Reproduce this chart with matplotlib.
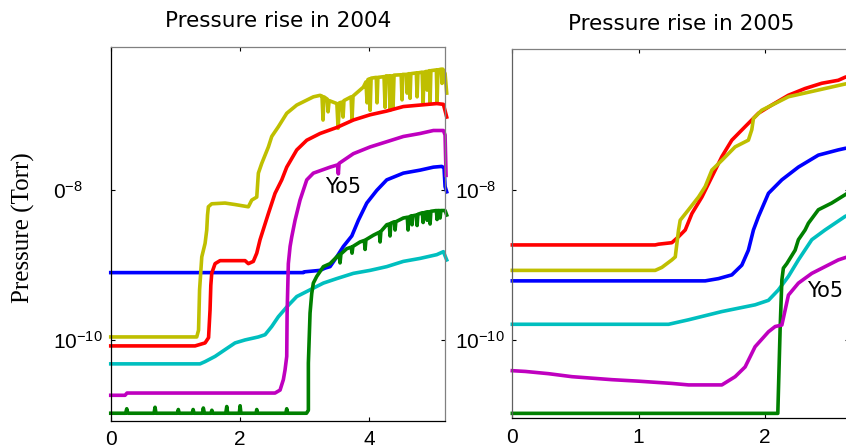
import numpy as np
import matplotlib.pyplot as plt

# (time, log10 of pressure in Torr) for each gauge trace, 2004 run
yellow_04 = [
    (0.000, -9.96), (1.331, -9.96), (1.359, -9.87), (1.375, -9.33), (1.409, -8.89),
    (1.460, -8.71), (1.486, -8.53), (1.498, -8.33), (1.511, -8.22), (1.563, -8.18),
    (1.769, -8.17), (1.924, -8.19), (2.130, -8.22), (2.183, -8.13), (2.260, -8.09),
    (2.285, -7.77), (2.337, -7.64), (2.440, -7.42), (2.492, -7.28), (2.594, -7.15),
    (2.724, -6.97), (2.879, -6.86), (3.136, -6.75), (3.240, -6.73), (3.270, -6.74),
    (3.286, -7.06), (3.300, -6.75), (3.350, -6.78), (3.364, -6.95), (3.380, -6.80),
    (3.500, -6.84), (3.519, -7.17), (3.540, -6.83), (3.580, -6.82), (3.596, -7.02),
    (3.610, -6.80), (3.720, -6.75), (3.735, -7.06), (3.750, -6.74), (3.910, -6.62),
    (3.950, -6.55), (3.968, -6.83), (3.980, -6.52), (4.000, -6.51), (4.015, -6.93),
    (4.030, -6.50), (4.110, -6.49), (4.122, -6.83), (4.135, -6.49), (4.230, -6.48),
    (4.246, -6.89), (4.260, -6.47), (4.310, -6.47), (4.323, -6.93), (4.335, -6.47),
    (4.355, -6.47), (4.370, -6.89), (4.385, -6.46), (4.495, -6.455), (4.509, -6.79),
    (4.520, -6.45), (4.575, -6.45), (4.587, -6.70), (4.600, -6.445), (4.620, -6.44),
    (4.633, -6.77), (4.645, -6.44), (4.730, -6.43), (4.742, -6.75), (4.755, -6.43),
    (4.820, -6.42), (4.835, -6.83), (4.850, -6.42), (4.885, -6.41), (4.897, -6.66),
    (4.910, -6.41), (4.930, -6.40), (4.943, -6.83), (4.955, -6.40), (5.040, -6.39),
    (5.051, -6.82), (5.065, -6.39), (5.115, -6.38), (5.128, -6.57), (5.140, -6.38),
    (5.175, -6.44), (5.200, -6.70),
]
red_04 = [
    (0.000, -10.08), (1.305, -10.08), (1.460, -10.04), (1.514, -9.97), (1.537, -9.60),
    (1.549, -9.27), (1.563, -9.11), (1.615, -8.98), (1.692, -8.94), (2.079, -8.94),
    (2.130, -8.98), (2.207, -8.95), (2.260, -8.84), (2.311, -8.66), (2.440, -8.31),
    (2.543, -8.04), (2.647, -7.86), (2.724, -7.69), (2.879, -7.46), (3.034, -7.33),
    (3.240, -7.24), (3.498, -7.16), (3.755, -7.06), (4.014, -6.99), (4.272, -6.94),
    (4.529, -6.88), (4.788, -6.86), (5.046, -6.84), (5.149, -6.85), (5.200, -7.02),
]
magenta_04 = [
    (0.000, -10.74), (0.221, -10.74), (0.252, -10.71), (2.543, -10.71), (2.621, -10.67),
    (2.672, -10.53), (2.698, -10.40), (2.724, -10.22), (2.730, -9.64), (2.749, -8.98),
    (2.776, -8.75), (2.802, -8.62), (2.853, -8.40), (2.930, -8.13), (3.034, -7.86),
    (3.136, -7.77), (3.395, -7.69), (3.510, -7.66), (3.523, -7.78), (3.534, -7.64),
    (3.755, -7.51), (4.014, -7.42), (4.272, -7.35), (4.529, -7.28), (4.788, -7.24),
    (4.994, -7.20), (5.149, -7.20), (5.175, -7.26), (5.190, -7.80),
]
blue_04 = [
    (0.000, -9.10), (2.981, -9.10), (2.992, -9.09), (3.240, -9.07), (3.317, -9.04),
    (3.395, -9.02), (3.498, -8.89), (3.601, -8.75), (3.731, -8.61), (3.833, -8.40),
    (3.963, -8.17), (4.118, -8.00), (4.272, -7.86), (4.529, -7.77), (4.788, -7.73),
    (4.994, -7.69), (5.124, -7.68), (5.159, -7.70), (5.175, -7.95), (5.200, -8.02),
]
green_04 = [
    (0.000, -10.98), (0.230, -10.98), (0.248, -10.92), (0.265, -10.98), (0.670, -10.98),
    (0.686, -10.90), (0.700, -10.98), (1.030, -10.98), (1.046, -10.93), (1.060, -10.98),
    (1.260, -10.98), (1.275, -10.93), (1.290, -10.98), (1.420, -10.98), (1.433, -10.91),
    (1.450, -10.98), (1.550, -10.98), (1.565, -10.94), (1.580, -10.98), (1.780, -10.98),
    (1.796, -10.89), (1.810, -10.98), (1.990, -10.98), (2.002, -10.88), (2.015, -10.98),
    (2.250, -10.98), (2.260, -10.93), (2.275, -10.98), (2.710, -10.98), (2.724, -10.92),
    (2.740, -10.98), (3.030, -10.98), (3.059, -10.94), (3.059, -10.31), (3.085, -9.64),
    (3.111, -9.38), (3.136, -9.24), (3.189, -9.15), (3.291, -9.02), (3.395, -8.98),
    (3.498, -8.89), (3.535, -8.86), (3.549, -8.97), (3.563, -8.85), (3.653, -8.78),
    (3.722, -8.76), (3.735, -8.84), (3.748, -8.75), (3.859, -8.69), (3.925, -8.67),
    (3.937, -8.79), (3.950, -8.66), (4.065, -8.60), (4.157, -8.56), (4.169, -8.69),
    (4.181, -8.55), (4.272, -8.46), (4.311, -8.45), (4.323, -8.61), (4.335, -8.44),
    (4.389, -8.42), (4.401, -8.53), (4.413, -8.42), (4.529, -8.37), (4.590, -8.36),
    (4.602, -8.53), (4.614, -8.36), (4.652, -8.34), (4.664, -8.46), (4.676, -8.34),
    (4.730, -8.33), (4.742, -8.47), (4.754, -8.32), (4.788, -8.31), (4.823, -8.30),
    (4.835, -8.43), (4.847, -8.30), (4.885, -8.29), (4.897, -8.40), (4.909, -8.29),
    (4.931, -8.285), (4.943, -8.45), (4.955, -8.28), (5.040, -8.27), (5.051, -8.39),
    (5.062, -8.27), (5.087, -8.27), (5.098, -8.37), (5.110, -8.27), (5.175, -8.27),
    (5.200, -8.33),
]
cyan_04 = [
    (0.000, -10.32), (1.382, -10.32), (1.460, -10.29), (1.615, -10.22), (1.769, -10.13),
    (1.924, -10.04), (2.079, -10.00), (2.285, -9.96), (2.389, -9.93), (2.492, -9.82),
    (2.594, -9.69), (2.724, -9.56), (2.879, -9.42), (3.085, -9.33), (3.291, -9.24),
    (3.498, -9.18), (3.755, -9.11), (4.014, -9.07), (4.272, -9.02), (4.529, -8.95),
    (4.788, -8.91), (5.046, -8.86), (5.149, -8.82), (5.200, -8.93),
]

# same gauges, 2005 run
red_05 = [
    (0.000, -8.73), (1.131, -8.73), (1.157, -8.72), (1.263, -8.70), (1.316, -8.62),
    (1.369, -8.53), (1.422, -8.31), (1.501, -8.09), (1.580, -7.82), (1.659, -7.55),
    (1.738, -7.33), (1.843, -7.15), (1.949, -6.97), (2.055, -6.86), (2.186, -6.73),
    (2.318, -6.64), (2.450, -6.57), (2.581, -6.53), (2.634, -6.49), (2.674, -6.47),
]
yellow_05 = [
    (0.000, -9.07), (1.131, -9.07), (1.184, -9.03), (1.263, -8.93), (1.290, -8.89),
    (1.303, -8.71), (1.316, -8.53), (1.329, -8.40), (1.395, -8.26), (1.474, -8.09),
    (1.527, -7.95), (1.580, -7.73), (1.659, -7.60), (1.764, -7.42), (1.869, -7.33),
    (1.896, -7.19), (1.909, -7.04), (1.975, -6.93), (2.081, -6.84), (2.186, -6.75),
    (2.318, -6.70), (2.476, -6.64), (2.634, -6.58), (2.674, -6.57),
]
blue_05 = [
    (0.000, -9.21), (1.527, -9.21), (1.632, -9.18), (1.738, -9.13), (1.817, -9.00),
    (1.869, -8.80), (1.909, -8.53), (1.949, -8.35), (2.028, -8.04), (2.134, -7.86),
    (2.265, -7.69), (2.423, -7.53), (2.581, -7.46), (2.634, -7.44), (2.674, -7.43),
]
green_05 = [
    (0.000, -10.98), (2.102, -10.98), (2.107, -10.67), (2.120, -9.87), (2.134, -9.20),
    (2.146, -9.04), (2.173, -8.98), (2.239, -8.80), (2.265, -8.66), (2.318, -8.53),
    (2.344, -8.44), (2.423, -8.26), (2.529, -8.17), (2.634, -8.06), (2.674, -8.02),
]
cyan_05 = [
    (0.000, -9.79), (1.237, -9.79), (1.395, -9.73), (1.659, -9.62), (1.922, -9.53),
    (2.028, -9.47), (2.107, -9.33), (2.186, -9.15), (2.265, -8.93), (2.371, -8.66),
    (2.476, -8.53), (2.634, -8.35), (2.674, -8.32),
]
magenta_05 = [
    (0.000, -10.41), (0.103, -10.42), (0.287, -10.45), (0.472, -10.49), (0.789, -10.53),
    (0.999, -10.55), (1.263, -10.58), (1.395, -10.60), (1.659, -10.60), (1.764, -10.49),
    (1.843, -10.36), (1.922, -10.09), (2.028, -9.89), (2.081, -9.82), (2.134, -9.80),
    (2.160, -9.60), (2.186, -9.40), (2.265, -9.24), (2.371, -9.11), (2.476, -9.02),
    (2.581, -8.93), (2.634, -8.90), (2.674, -8.88),
]

titles = ['Pressure rise in 2004', 'Pressure rise in 2005']
xticks_04 = [0, 2, 4]
xticks_05 = [0, 1, 2]
yticks = [1e-10, 1e-8]
ylabels_04 = [r'$\mathregular{10^{-10}}$', r'$\mathregular{0^{-8}}$']
ylabels_05 = [r'$\mathregular{10^{-10}}$', r'$\mathregular{10^{-8}}$']
note = 'Yo5'
note_04 = (3.317, 10 ** -7.96)
note_05 = (2.331, 10 ** -9.345)

colors = {'yellow': '#bfbf00', 'red': '#ff0000', 'magenta': '#bf00bf',
          'blue': '#0000ff', 'green': '#008000', 'cyan': '#00bfbf'}

plt.rcParams['font.family'] = ['Liberation Sans', 'DejaVu Sans']
plt.rcParams['mathtext.default'] = 'regular'
plt.rcParams['axes.unicode_minus'] = False

fig = plt.figure(figsize=(8.46, 4.48), dpi=100)
ax1 = fig.add_axes([0.1309, 0.0609, 0.3952, 0.8348])
ax2 = fig.add_axes([0.6056, 0.0663, 0.3980, 0.8237])


def draw(ax, traces):
    for name, trace in traces:
        t = np.array([p[0] for p in trace])
        p = 10.0 ** np.array([p[1] for p in trace])
        ax.plot(t, p, color=colors[name], lw=2.6, clip_on=False,
                solid_joinstyle='round')


draw(ax1, [('blue', blue_04), ('cyan', cyan_04), ('yellow', yellow_04),
           ('red', red_04), ('magenta', magenta_04), ('green', green_04)])
draw(ax2, [('blue', blue_05), ('cyan', cyan_05), ('red', red_05),
           ('yellow', yellow_05), ('green', green_05), ('magenta', magenta_05)])

ax1.set_xlim(0, 5.175)
ax1.set_ylim(10 ** -11.08, 10 ** -6.08)
ax2.set_xlim(0, 2.666)
ax2.set_ylim(10 ** -11.046, 10 ** -6.116)

for ax, xt, yl, title in [(ax1, xticks_04, ylabels_04, titles[0]),
                          (ax2, xticks_05, ylabels_05, titles[1])]:
    ax.set_yscale('log')
    ax.minorticks_off()
    ax.set_xticks(xt)
    ax.set_xticklabels([str(v) for v in xt], fontsize=15)
    ax.set_yticks(yticks)
    ax.set_yticklabels(yl, fontsize=15)
    for lab in ax.get_yticklabels():
        lab.set_horizontalalignment('left')
    ax.tick_params(direction='in', top=True, right=True, length=3, width=0.8)
    ax.tick_params(axis='y', pad=41.5)
    ax.tick_params(axis='x', pad=7)
    ax.set_title(title, family='DejaVu Sans', fontsize=15.5, pad=14)
    ax.spines['top'].set_color('#808080')
    ax.spines['right'].set_color('#808080')
    for s in ax.spines.values():
        s.set_linewidth(0.9)

ax2.spines['left'].set_color('#606060')

ax1.text(note_04[0], note_04[1], note, family='DejaVu Sans', fontsize=15,
         va='center', ha='left')
ax2.text(note_05[0], note_05[1], note, family='DejaVu Sans', fontsize=15,
         va='center', ha='left')

ax1.set_ylabel('Pressure (Torr)', family='Liberation Serif', fontsize=18)
ax1.yaxis.set_label_coords(-0.2265, 0.517)

fig.savefig('out.png', dpi=100)
